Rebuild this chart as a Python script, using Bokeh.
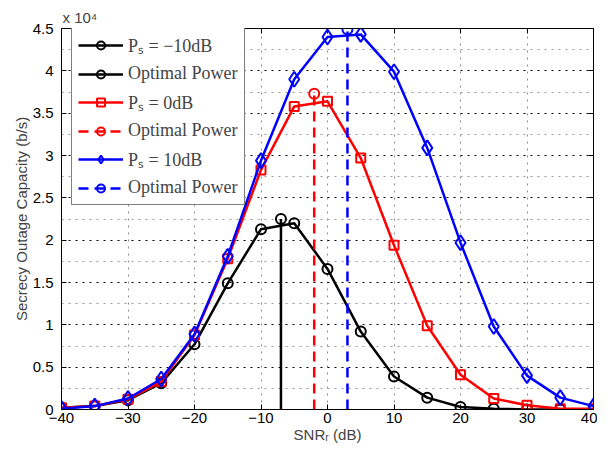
from bokeh.plotting import figure
from bokeh.models import (ColumnDataSource, FixedTicker, LinearAxis, Legend,
                          LegendItem, CustomLabelingPolicy)
from bokeh.embed import file_html
from bokeh.resources import INLINE

# ---------------- data ----------------
snr_db = [-40, -35, -30, -25, -20, -15, -10, -5, 0, 5, 10, 15, 20, 25, 30, 35, 40]
cap_ps_m10 = [200, 400, 1100, 3100, 7700, 14900, 21300, 22000, 16600, 9200,
              3900, 1400, 300, 100, 0, 0, 0]
cap_ps_0 = [200, 400, 1200, 3300, 8800, 17800, 28300, 35800, 36400, 29700,
            19400, 9900, 4100, 1300, 500, 100, 100]
cap_ps_10 = [100, 400, 1300, 3600, 8900, 18100, 29400, 39000, 44000, 44300,
             39900, 30900, 19700, 9800, 4000, 1400, 400]
opt_snr = [-7, -2, 3]
opt_cap = [22500, 37300, 44900]
stem_base = [0, 0, 0]

x_ticks = [-40, -30, -20, -10, 0, 10, 20, 30, 40]
x_tick_labels = ["\u221240", "\u221230", "\u221220", "\u221210", "0", "10", "20", "30", "40"]
y_ticks = [0, 5000, 10000, 15000, 20000, 25000, 30000, 35000, 40000, 45000]
y_tick_labels = ["0", "0.5", "1", "1.5", "2", "2.5", "3", "3.5", "4", "4.5"]
y_minor = [2500, 7500, 12500, 17500, 22500, 27500, 32500, 37500, 42500]

legend_labels = ["P\u209b = \u221210dB", "Optimal Power", "P\u209b = 0dB",
                 "Optimal Power", "P\u209b = 10dB", "Optimal Power"]
x_label = "SNR\u1d63 (dB)"
y_label = "Secrecy Outage Capacity (b/s)"
exponent_text = "x 10\u2074"

# ---------------- figure ----------------
W, H = 597, 445
BL, BR, BT, BB = 61, 0, 28, 30

p = figure(width=W, height=H, output_backend="svg", toolbar_location=None,
           x_range=(-40, 40), y_range=(0, 45000),
           min_border_left=BL, min_border_right=BR, min_border_top=BT,
           min_border_bottom=BB)
p.background_fill_color = "white"
p.border_fill_color = "white"
p.outline_line_color = "black"
p.outline_line_width = 1

FONT = "Liberation Sans"

p.title.text = exponent_text
p.title.align = "left"
p.title.text_font = FONT
p.title.text_font_size = "15px"
p.title.text_font_style = "normal"
p.title.standoff = 5
p.title.offset = 1

xt = FixedTicker(ticks=x_ticks, minor_ticks=[])
yt = FixedTicker(ticks=y_ticks, minor_ticks=y_minor)

no_labels = CustomLabelingPolicy(code="for (const i of indices) { indices.unset(i) } return indices")

def style_axis(ax, show_labels):
    ax.axis_line_color = "black"
    ax.axis_line_width = 1
    ax.major_tick_in = 5
    ax.major_tick_out = 0
    ax.major_tick_line_color = "black"
    ax.minor_tick_line_color = None
    ax.major_label_text_font = FONT
    ax.major_label_text_color = "black"
    if show_labels:
        ax.major_label_text_font_size = "15px"
    else:
        ax.major_label_text_font_size = "0px"
        ax.major_label_standoff = 0
        ax.major_label_policy = no_labels

xa = p.xaxis[0]
xa.ticker = xt
xa.major_label_overrides = {float(t): s for t, s in zip(x_ticks, x_tick_labels)}
xa.major_label_standoff = 3
xa.axis_label = x_label
xa.axis_label_text_font = FONT
xa.axis_label_text_font_size = "15px"
xa.axis_label_text_font_style = "normal"
xa.axis_label_standoff = 0
style_axis(xa, True)

ya = p.yaxis[0]
ya.ticker = yt
ya.major_label_overrides = {float(t): s for t, s in zip(y_ticks, y_tick_labels)}
ya.major_label_standoff = 4
ya.axis_label = y_label
ya.axis_label_text_font = FONT
ya.axis_label_text_font_size = "15px"
ya.axis_label_text_font_style = "normal"
ya.axis_label_standoff = 0
style_axis(ya, True)

top = LinearAxis(ticker=xt)
style_axis(top, False)
p.add_layout(top, "above")
right = LinearAxis(ticker=yt)
style_axis(right, False)
p.add_layout(right, "right")

p.xgrid.ticker = xt
p.ygrid.ticker = yt
p.xgrid.grid_line_color = "#8c8c8c"
p.xgrid.grid_line_dash = "2 5"
p.xgrid.grid_line_width = 1
p.ygrid.grid_line_color = "black"
p.ygrid.grid_line_dash = "2 5"
p.ygrid.grid_line_width = 1
p.ygrid.minor_grid_line_color = "#9a9a9a"
p.ygrid.minor_grid_line_dash = "2 5"
p.ygrid.minor_grid_line_width = 1

# ---------------- glyphs ----------------
src = ColumnDataSource(dict(snr=snr_db, m10=cap_ps_m10, c0=cap_ps_0, c10=cap_ps_10))
LW = 2.5

series = [("m10", "black", "circle", 10), ("c0", "red", "square", 9),
          ("c10", "blue", "diamond", 15)]
stem_dash = ["solid", "10 6", "10 6"]

items = []
for i, (col, color, marker, size) in enumerate(series):
    rl = p.line("snr", col, source=src, line_color=color, line_width=LW)
    rm = p.scatter("snr", col, source=src, marker=marker, size=size,
                   line_color=color, fill_color=None, line_width=2)
    osrc = ColumnDataSource(dict(x=[opt_snr[i]], y=[opt_cap[i]], y0=[stem_base[i]]))
    rs = p.segment(x0="x", y0="y0", x1="x", y1="y", source=osrc,
                   line_color=color, line_width=LW, line_dash=stem_dash[i])
    rsm = p.scatter("x", "y", source=osrc, marker="circle", size=10,
                    line_color=color, fill_color=None, line_width=2)
    items.append(LegendItem(label=legend_labels[2 * i], renderers=[rl, rm]))
    items.append(LegendItem(label=legend_labels[2 * i + 1], renderers=[rs, rsm]))

FH_EST = H - BT - 35
legend = Legend(items=items, location=(10, FH_EST - 4 - 174))
legend.border_line_color = "black"
legend.border_line_width = 1.5
legend.background_fill_color = "white"
legend.background_fill_alpha = 1
legend.label_text_font = "Liberation Serif"
legend.label_text_font_size = "18px"
legend.glyph_width = 45
legend.glyph_height = 20
legend.label_height = 20
legend.spacing = 6
legend.padding = 6
legend.margin = 0
legend.label_standoff = 5
p.add_layout(legend)

open("out.html", "w").write(file_html(p, INLINE))
